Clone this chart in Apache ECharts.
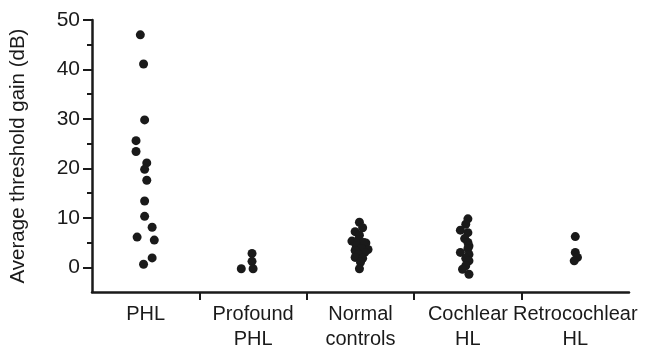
<!DOCTYPE html>
<html>
<head>
<meta charset="utf-8">
<script src="https://cdn.jsdelivr.net/npm/echarts@6/dist/echarts.min.js"></script>
<style>
  html, body { margin: 0; padding: 0; background: #fff; }
  #chart { width: 649px; height: 353px; }
</style>
</head>
<body>
<div id="chart"></div>
<script>
// Groups along the x axis
const categories = ['PHL', 'Profound\nPHL', 'Normal\ncontrols', 'Cochlear\nHL', 'Retrocochlear\nHL'];

// Average threshold gain (dB) per subject
const phlValues = [47, 41.1, 29.8, 25.6, 23.4, 21.1, 19.8, 17.6, 13.4, 10.3, 8.1, 6.1, 5.5, 1.9, 0.6];
const profoundValues = [-0.3, 2.8, 1.2, -0.3];
const normalValues = [9.1, 8.0, 7.2, 6.5, 5.3, 5.6, 4.9, 5.0, 4.4, 3.6, 3.8, 3.4, 3.0, 2.6, 2.0, 1.8, 1.0, -0.3];
const cochlearValues = [9.8, 8.7, 7.5, 7.0, 5.8, 5.0, 4.3, 3.8, 3.0, 2.6, 1.8, 1.3, 0.3, -0.4, -1.4];
const retroValues = [6.2, 3.0, 2.0, 1.3];

// Horizontal scatter of each dot inside its group (category units)
const phlJitter = [-0.05, -0.02, -0.01, -0.09, -0.09, 0.01, -0.01, 0.01, -0.01, -0.01, 0.06, -0.08, 0.08, 0.06, -0.02];
const profoundJitter = [-0.11, -0.01, -0.01, 0.0];
const normalJitter = [-0.01, 0.02, -0.05, -0.01, -0.08, -0.02, 0.05, 0.03, -0.04, 0.07, 0.01, -0.05, 0.04, -0.02, -0.05, 0.02, 0.0, -0.01];
const cochlearJitter = [0.0, -0.02, -0.07, 0.0, -0.03, 0.0, 0.01, 0.0, -0.07, 0.01, -0.02, 0.01, -0.02, -0.05, 0.01];
const retroJitter = [0.0, 0.0, 0.02, -0.01];

// Axis ticks
const yLabelTicks = [0, 10, 20, 30, 40, 50];
const yMinorTicks = [5, 15, 25, 35, 45];
const xLabelTicks = [0, 1, 2, 3, 4];
const xBoundaryTicks = [0.5, 1.5, 2.5, 3.5];

const groups = [
  [phlValues, phlJitter],
  [profoundValues, profoundJitter],
  [normalValues, normalJitter],
  [cochlearValues, cochlearJitter],
  [retroValues, retroJitter],
];

const points = [];
groups.forEach(([vals, jit], i) => {
  vals.forEach((v, k) => points.push([i + jit[k], v]));
});

const font = 'Liberation Sans, Arial, sans-serif';
const ink = '#1a1a1a';

const chart = echarts.init(document.getElementById('chart'), null, { renderer: 'canvas' });
chart.setOption({
  animation: false,
  grid: { left: 91, right: 20, top: 20, bottom: 61, containLabel: false },
  xAxis: {
    type: 'value',
    min: -0.5,
    max: 4.5,
    splitLine: { show: false },
    axisLine: { show: true, onZero: false, lineStyle: { color: ink, width: 2.5 } },
    axisTick: {
      show: true,
      customValues: xBoundaryTicks,
      length: 8,
      inside: false,
      lineStyle: { color: ink, width: 2 },
    },
    axisLabel: {
      customValues: xLabelTicks,
      formatter: (v) => categories[Math.round(v)] || '',
      fontFamily: font,
      fontSize: 20,
      lineHeight: 25,
      color: ink,
      margin: 10,
    },
  },
  yAxis: [
    {
      type: 'value',
      min: -5,
      max: 50,
      name: 'Average threshold gain (dB)',
      nameLocation: 'middle',
      nameGap: 63,
      nameTextStyle: { fontFamily: font, fontSize: 20.5, color: ink },
      splitLine: { show: false },
      axisLine: { show: true, onZero: false, lineStyle: { color: ink, width: 2.5 } },
      axisTick: {
        show: true,
        customValues: yLabelTicks,
        length: 9,
        lineStyle: { color: ink, width: 2 },
      },
      axisLabel: {
        customValues: yLabelTicks,
        fontFamily: font,
        fontSize: 21,
        color: ink,
        margin: 12,
      },
    },
    {
      type: 'value',
      min: -5,
      max: 50,
      position: 'left',
      splitLine: { show: false },
      axisLine: { show: false, onZero: false },
      axisLabel: { show: false },
      axisTick: {
        show: true,
        customValues: yMinorTicks,
        length: 5,
        lineStyle: { color: ink, width: 2 },
      },
    },
  ],
  series: [
    {
      type: 'scatter',
      data: points,
      symbol: 'circle',
      symbolSize: 9,
      itemStyle: { color: ink, opacity: 1 },
    },
  ],
});
</script>
</body>
</html>
